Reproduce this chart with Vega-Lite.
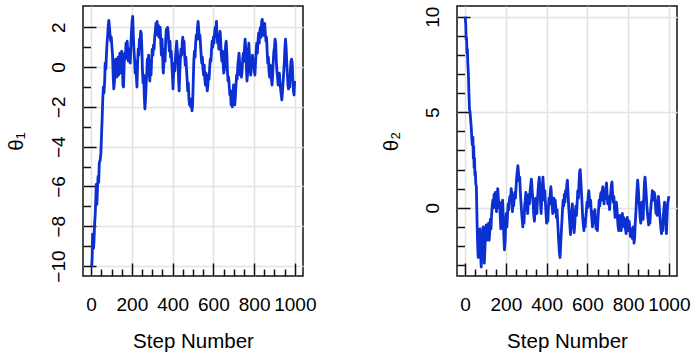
{
  "$schema": "https://vega.github.io/schema/vega-lite/v6.json",
  "padding": {"left": 5, "top": 5, "right": 0, "bottom": 0},
  "bounds": "flush",
  "spacing": 154,
  "config": {
    "font": "Liberation Sans",
    "view": {"stroke": "#111111", "strokeWidth": 1.5},
    "axis": {
      "domain": false,
      "tickColor": "#111111",
      "tickWidth": 1.5,
      "labelColor": "#000000",
      "labelFont": "Liberation Sans",
      "labelFontSize": 19,
      "titleFont": "Liberation Sans",
      "titleFontSize": 20.5,
      "titleFontWeight": "normal",
      "titleColor": "#000000",
      "gridColor": "#e3e3e3",
      "gridWidth": 1.5,
      "labelOverlap": false,
      "labelFlush": false,
      "labelBound": false
    }
  },
  "hconcat": [
    {
      "width": 220,
      "height": 270,
      "data": {"values": [
        {"step":0,"theta":-10},{"step":3,"theta":-10},{"step":5,"theta":-9.6},{"step":7,"theta":-8.4},{"step":9,"theta":-8.5},{"step":12,"theta":-9.1},{"step":14,"theta":-8.7},{"step":17,"theta":-7.9},{"step":20,"theta":-7.4},{"step":23,"theta":-6.6},{"step":25,"theta":-5.9},{"step":28,"theta":-6.9},{"step":31,"theta":-6.1},{"step":34,"theta":-5.5},{"step":37,"theta":-5.8},{"step":40,"theta":-4.8},{"step":44,"theta":-4.7},{"step":48,"theta":-4.3},{"step":51,"theta":-3.4},{"step":54,"theta":-2.6},{"step":57,"theta":-1.6},{"step":60,"theta":-1.0},{"step":63,"theta":-1.3},{"step":66,"theta":-0.8},{"step":69,"theta":0.2},{"step":72,"theta":-0.1},{"step":75,"theta":0.6},{"step":78,"theta":1.2},{"step":81,"theta":1.6},{"step":84,"theta":2.1},{"step":87,"theta":2.35},{"step":90,"theta":2.0},{"step":93,"theta":1.6},{"step":96,"theta":1.3},{"step":99,"theta":1.5},{"step":102,"theta":1.0},{"step":105,"theta":0.6},{"step":108,"theta":-0.4},{"step":111,"theta":-1.1},{"step":114,"theta":-0.8},{"step":117,"theta":-0.2},{"step":120,"theta":0.4},{"step":123,"theta":0.0},{"step":126,"theta":-0.5},{"step":129,"theta":0.3},{"step":132,"theta":0.5},{"step":135,"theta":-0.4},{"step":138,"theta":0.2},{"step":141,"theta":0.7},{"step":144,"theta":-0.3},{"step":147,"theta":0.4},{"step":150,"theta":0.8},{"step":153,"theta":0.2},{"step":156,"theta":-0.9},{"step":159,"theta":-1.0},{"step":162,"theta":0.1},{"step":165,"theta":0.7},{"step":168,"theta":0.4},{"step":171,"theta":1.2},{"step":174,"theta":0.9},{"step":177,"theta":1.3},{"step":180,"theta":0.7},{"step":183,"theta":0.3},{"step":186,"theta":0.9},{"step":189,"theta":0.5},{"step":192,"theta":0.2},{"step":195,"theta":1.1},{"step":198,"theta":1.8},{"step":201,"theta":2.3},{"step":204,"theta":2.55},{"step":207,"theta":1.6},{"step":210,"theta":0.9},{"step":213,"theta":0.4},{"step":216,"theta":-0.3},{"step":219,"theta":0.3},{"step":222,"theta":-0.5},{"step":225,"theta":-1.0},{"step":228,"theta":0.2},{"step":231,"theta":0.9},{"step":234,"theta":0.6},{"step":237,"theta":1.4},{"step":240,"theta":1.1},{"step":243,"theta":1.8},{"step":246,"theta":1.7},{"step":249,"theta":0.9},{"step":252,"theta":-0.2},{"step":255,"theta":-0.8},{"step":258,"theta":-0.4},{"step":261,"theta":-1.5},{"step":264,"theta":-2.1},{"step":267,"theta":-1.6},{"step":270,"theta":-0.9},{"step":273,"theta":-0.3},{"step":276,"theta":0.4},{"step":279,"theta":0.1},{"step":282,"theta":0.6},{"step":285,"theta":-0.3},{"step":288,"theta":-0.7},{"step":291,"theta":0.1},{"step":294,"theta":-0.4},{"step":297,"theta":0.4},{"step":300,"theta":0.9},{"step":303,"theta":0.6},{"step":306,"theta":1.1},{"step":309,"theta":0.9},{"step":312,"theta":1.5},{"step":315,"theta":1.8},{"step":318,"theta":2.2},{"step":321,"theta":1.9},{"step":324,"theta":2.3},{"step":327,"theta":1.6},{"step":330,"theta":2.1},{"step":333,"theta":1.5},{"step":336,"theta":1.9},{"step":339,"theta":2.0},{"step":342,"theta":1.2},{"step":345,"theta":0.6},{"step":348,"theta":1.4},{"step":351,"theta":0.5},{"step":354,"theta":-0.3},{"step":357,"theta":0.2},{"step":360,"theta":0.9},{"step":363,"theta":0.3},{"step":366,"theta":1.4},{"step":369,"theta":1.9},{"step":372,"theta":1.5},{"step":375,"theta":2.0},{"step":378,"theta":1.8},{"step":381,"theta":1.2},{"step":384,"theta":0.8},{"step":387,"theta":1.3},{"step":390,"theta":0.5},{"step":393,"theta":0.8},{"step":396,"theta":0.2},{"step":399,"theta":-0.4},{"step":402,"theta":-1.1},{"step":405,"theta":-0.3},{"step":408,"theta":0.2},{"step":411,"theta":-0.2},{"step":414,"theta":0.5},{"step":417,"theta":0.9},{"step":420,"theta":1.3},{"step":423,"theta":0.8},{"step":426,"theta":0.4},{"step":429,"theta":-0.6},{"step":432,"theta":-1.2},{"step":435,"theta":-0.3},{"step":438,"theta":0.4},{"step":441,"theta":0.9},{"step":444,"theta":0.6},{"step":447,"theta":1.2},{"step":450,"theta":1.5},{"step":453,"theta":1.0},{"step":456,"theta":1.3},{"step":459,"theta":0.6},{"step":462,"theta":0.1},{"step":465,"theta":0.5},{"step":468,"theta":-0.1},{"step":471,"theta":-0.6},{"step":474,"theta":-1.2},{"step":477,"theta":-0.8},{"step":480,"theta":-1.6},{"step":483,"theta":-1.9},{"step":486,"theta":-1.8},{"step":489,"theta":-2.0},{"step":492,"theta":-1.6},{"step":495,"theta":-2.2},{"step":498,"theta":-1.9},{"step":501,"theta":-0.8},{"step":504,"theta":0.3},{"step":507,"theta":0.8},{"step":510,"theta":0.5},{"step":513,"theta":1.2},{"step":516,"theta":1.6},{"step":519,"theta":1.4},{"step":522,"theta":2.0},{"step":525,"theta":2.3},{"step":528,"theta":1.9},{"step":531,"theta":1.4},{"step":534,"theta":1.6},{"step":537,"theta":1.1},{"step":540,"theta":0.6},{"step":543,"theta":0.2},{"step":546,"theta":0.5},{"step":549,"theta":-0.1},{"step":552,"theta":-0.4},{"step":555,"theta":0.1},{"step":558,"theta":-0.6},{"step":561,"theta":-0.9},{"step":564,"theta":-0.3},{"step":567,"theta":-0.8},{"step":570,"theta":-1.2},{"step":573,"theta":-0.9},{"step":576,"theta":-0.4},{"step":579,"theta":-0.6},{"step":582,"theta":0.0},{"step":585,"theta":0.4},{"step":588,"theta":0.3},{"step":591,"theta":0.9},{"step":594,"theta":1.3},{"step":597,"theta":1.0},{"step":600,"theta":1.5},{"step":603,"theta":1.2},{"step":606,"theta":1.7},{"step":609,"theta":2.0},{"step":612,"theta":1.8},{"step":615,"theta":2.3},{"step":618,"theta":1.6},{"step":621,"theta":1.2},{"step":624,"theta":1.4},{"step":627,"theta":0.9},{"step":630,"theta":1.5},{"step":633,"theta":1.8},{"step":636,"theta":1.3},{"step":639,"theta":0.6},{"step":642,"theta":0.3},{"step":645,"theta":0.8},{"step":648,"theta":0.2},{"step":651,"theta":-0.3},{"step":654,"theta":-0.1},{"step":657,"theta":0.4},{"step":660,"theta":1.1},{"step":663,"theta":1.3},{"step":666,"theta":0.7},{"step":669,"theta":-0.2},{"step":672,"theta":-0.7},{"step":675,"theta":-0.5},{"step":678,"theta":-1.0},{"step":681,"theta":-1.4},{"step":684,"theta":-1.2},{"step":687,"theta":-1.9},{"step":690,"theta":-1.5},{"step":693,"theta":-2.0},{"step":696,"theta":-1.3},{"step":699,"theta":-0.9},{"step":702,"theta":-1.4},{"step":705,"theta":-1.9},{"step":708,"theta":-1.5},{"step":711,"theta":-0.9},{"step":714,"theta":-0.4},{"step":717,"theta":-0.6},{"step":720,"theta":0.1},{"step":723,"theta":0.4},{"step":726,"theta":0.7},{"step":729,"theta":0.2},{"step":732,"theta":-0.4},{"step":735,"theta":-0.1},{"step":738,"theta":-0.5},{"step":741,"theta":-0.2},{"step":744,"theta":0.4},{"step":747,"theta":0.7},{"step":750,"theta":0.3},{"step":753,"theta":1.0},{"step":756,"theta":1.4},{"step":759,"theta":0.9},{"step":762,"theta":0.0},{"step":765,"theta":-0.7},{"step":768,"theta":-0.3},{"step":771,"theta":0.6},{"step":774,"theta":1.2},{"step":777,"theta":0.6},{"step":780,"theta":0.0},{"step":783,"theta":-0.4},{"step":786,"theta":-0.1},{"step":789,"theta":0.3},{"step":792,"theta":0.6},{"step":795,"theta":0.1},{"step":798,"theta":0.4},{"step":801,"theta":-0.2},{"step":804,"theta":-0.4},{"step":807,"theta":0.2},{"step":810,"theta":0.8},{"step":813,"theta":1.2},{"step":816,"theta":0.7},{"step":819,"theta":1.3},{"step":822,"theta":1.7},{"step":825,"theta":1.2},{"step":828,"theta":1.8},{"step":831,"theta":2.0},{"step":834,"theta":1.5},{"step":837,"theta":2.3},{"step":840,"theta":2.4},{"step":843,"theta":1.9},{"step":846,"theta":1.6},{"step":849,"theta":1.9},{"step":852,"theta":2.2},{"step":855,"theta":1.7},{"step":858,"theta":1.3},{"step":861,"theta":1.5},{"step":864,"theta":0.8},{"step":867,"theta":0.2},{"step":870,"theta":0.5},{"step":873,"theta":-0.2},{"step":876,"theta":-0.5},{"step":879,"theta":0.1},{"step":882,"theta":-0.3},{"step":885,"theta":-0.6},{"step":888,"theta":-0.9},{"step":891,"theta":-0.4},{"step":894,"theta":0.3},{"step":897,"theta":0.8},{"step":900,"theta":1.0},{"step":903,"theta":1.4},{"step":906,"theta":1.2},{"step":909,"theta":0.3},{"step":912,"theta":-0.2},{"step":915,"theta":-0.5},{"step":918,"theta":-0.9},{"step":921,"theta":-0.6},{"step":924,"theta":-0.3},{"step":927,"theta":-0.8},{"step":930,"theta":-1.1},{"step":933,"theta":-1.4},{"step":936,"theta":-1.65},{"step":939,"theta":-1.3},{"step":942,"theta":-0.8},{"step":945,"theta":-0.3},{"step":948,"theta":0.2},{"step":951,"theta":0.9},{"step":954,"theta":1.4},{"step":957,"theta":1.0},{"step":960,"theta":0.3},{"step":963,"theta":-0.3},{"step":966,"theta":-0.9},{"step":969,"theta":-1.1},{"step":972,"theta":-0.5},{"step":975,"theta":-1.0},{"step":978,"theta":-0.2},{"step":981,"theta":0.3},{"step":984,"theta":0.4},{"step":987,"theta":0.2},{"step":990,"theta":-0.6},{"step":993,"theta":-1.2},{"step":996,"theta":-1.4},{"step":999,"theta":-0.7}
      ]},
      "mark": {"type": "line", "color": "#0b2fd1", "strokeWidth": 2.8, "strokeJoin": "round"},
      "encoding": {
        "x": {
          "field": "step", "type": "quantitative",
          "scale": {"domain": [-40, 1040], "nice": false, "zero": false},
          "axis": {
            "title": "Step Number",
            "values": [0,50,100,150,200,250,300,350,400,450,500,550,600,650,700,750,800,850,900,950,1000],
            "format": "d",
            "labelExpr": "datum.value % 200 === 0 ? datum.label : ''",
            "tickSize": {"condition": {"test": "datum.value % 200 === 0", "value": -13}, "value": -7},
            "gridOpacity": {"condition": {"test": "datum.value % 200 === 0", "value": 1}, "value": 0},
            "labelPadding": 32,
            "titlePadding": 11
          }
        },
        "y": {
          "field": "theta", "type": "quantitative",
          "scale": {"domain": [-10.5, 3.07], "nice": false, "zero": false},
          "axis": {
            "title": "θ₁",
            "values": [-10,-9.5,-9,-8.5,-8,-7.5,-7,-6.5,-6,-5.5,-5,-4.5,-4,-3.5,-3,-2.5,-2,-1.5,-1,-0.5,0,0.5,1,1.5,2,2.5],
            "format": "d",
            "labelExpr": "datum.value % 2 === 0 ? datum.label : ''",
            "tickSize": {"condition": {"test": "datum.value % 2 === 0", "value": -13}, "value": -7.5},
            "gridOpacity": {"condition": {"test": "datum.value % 2 === 0", "value": 1}, "value": 0},
            "labelAngle": -90,
            "labelAlign": "center",
            "labelBaseline": "alphabetic",
            "labelPadding": 32,
            "titlePadding": 17
          }
        }
      }
    },
    {
      "width": 220,
      "height": 270,
      "data": {"values": [
        {"step":0,"theta":10.0},{"step":3,"theta":9.6},{"step":5,"theta":8.8},{"step":7,"theta":8.9},{"step":9,"theta":8.1},{"step":11,"theta":8.3},{"step":13,"theta":7.6},{"step":16,"theta":7.0},{"step":18,"theta":6.2},{"step":21,"theta":5.2},{"step":24,"theta":5.0},{"step":27,"theta":4.6},{"step":30,"theta":4.2},{"step":33,"theta":3.6},{"step":35,"theta":3.3},{"step":38,"theta":3.7},{"step":40,"theta":2.6},{"step":42,"theta":3.2},{"step":44,"theta":2.1},{"step":46,"theta":2.6},{"step":48,"theta":1.7},{"step":50,"theta":1.9},{"step":52,"theta":1.3},{"step":55,"theta":1.1},{"step":58,"theta":-0.5},{"step":61,"theta":-1.8},{"step":64,"theta":-2.6},{"step":67,"theta":-1.4},{"step":70,"theta":-2.2},{"step":73,"theta":-1.1},{"step":76,"theta":-2.5},{"step":79,"theta":-3.1},{"step":82,"theta":-1.6},{"step":85,"theta":-2.3},{"step":88,"theta":-1.0},{"step":91,"theta":-1.6},{"step":94,"theta":-2.9},{"step":97,"theta":-2.2},{"step":100,"theta":-1.3},{"step":103,"theta":-0.9},{"step":106,"theta":-1.7},{"step":109,"theta":-1.1},{"step":112,"theta":-1.5},{"step":115,"theta":-0.8},{"step":118,"theta":-1.7},{"step":121,"theta":-1.2},{"step":124,"theta":-0.6},{"step":127,"theta":-1.1},{"step":130,"theta":-0.3},{"step":133,"theta":0.1},{"step":136,"theta":0.4},{"step":139,"theta":0.0},{"step":142,"theta":0.7},{"step":145,"theta":0.5},{"step":148,"theta":0.8},{"step":151,"theta":0.2},{"step":154,"theta":-0.2},{"step":157,"theta":0.6},{"step":160,"theta":1.0},{"step":163,"theta":0.5},{"step":166,"theta":0.0},{"step":169,"theta":0.3},{"step":172,"theta":-0.4},{"step":175,"theta":-1.1},{"step":178,"theta":-0.7},{"step":181,"theta":0.1},{"step":184,"theta":0.4},{"step":187,"theta":-0.5},{"step":190,"theta":-1.5},{"step":193,"theta":-2.2},{"step":196,"theta":-1.8},{"step":199,"theta":-0.9},{"step":202,"theta":-0.3},{"step":205,"theta":-1.0},{"step":208,"theta":-0.4},{"step":211,"theta":0.2},{"step":214,"theta":-0.1},{"step":217,"theta":0.4},{"step":220,"theta":0.6},{"step":223,"theta":0.3},{"step":226,"theta":1.0},{"step":229,"theta":0.7},{"step":232,"theta":-0.2},{"step":235,"theta":0.3},{"step":238,"theta":0.1},{"step":241,"theta":0.5},{"step":244,"theta":0.8},{"step":247,"theta":0.5},{"step":250,"theta":1.1},{"step":253,"theta":1.6},{"step":256,"theta":1.9},{"step":259,"theta":2.2},{"step":262,"theta":1.8},{"step":265,"theta":1.4},{"step":268,"theta":1.6},{"step":271,"theta":0.8},{"step":274,"theta":0.3},{"step":277,"theta":-0.2},{"step":280,"theta":-0.6},{"step":283,"theta":-1.0},{"step":286,"theta":-0.5},{"step":289,"theta":-0.8},{"step":292,"theta":0.1},{"step":295,"theta":0.4},{"step":298,"theta":0.8},{"step":301,"theta":0.5},{"step":304,"theta":0.0},{"step":307,"theta":-0.3},{"step":310,"theta":0.4},{"step":313,"theta":0.7},{"step":316,"theta":0.2},{"step":319,"theta":0.9},{"step":322,"theta":1.2},{"step":325,"theta":1.5},{"step":328,"theta":1.1},{"step":331,"theta":0.6},{"step":334,"theta":0.2},{"step":337,"theta":-0.4},{"step":340,"theta":-0.7},{"step":343,"theta":-0.2},{"step":346,"theta":0.5},{"step":349,"theta":0.3},{"step":352,"theta":-0.3},{"step":355,"theta":0.4},{"step":358,"theta":0.9},{"step":361,"theta":1.3},{"step":364,"theta":1.6},{"step":367,"theta":1.0},{"step":370,"theta":0.2},{"step":373,"theta":-0.3},{"step":376,"theta":0.5},{"step":379,"theta":1.1},{"step":382,"theta":1.6},{"step":385,"theta":1.0},{"step":388,"theta":0.4},{"step":391,"theta":0.9},{"step":394,"theta":0.3},{"step":397,"theta":-0.3},{"step":400,"theta":-0.8},{"step":403,"theta":-0.5},{"step":406,"theta":-0.7},{"step":409,"theta":0.1},{"step":412,"theta":0.5},{"step":415,"theta":0.2},{"step":418,"theta":0.8},{"step":421,"theta":1.1},{"step":424,"theta":0.6},{"step":427,"theta":0.1},{"step":430,"theta":-0.3},{"step":433,"theta":0.3},{"step":436,"theta":0.5},{"step":439,"theta":-0.2},{"step":442,"theta":0.4},{"step":445,"theta":0.0},{"step":448,"theta":-0.5},{"step":451,"theta":-0.1},{"step":454,"theta":-0.7},{"step":457,"theta":-1.3},{"step":460,"theta":-1.9},{"step":463,"theta":-2.4},{"step":466,"theta":-2.6},{"step":469,"theta":-1.9},{"step":472,"theta":-1.3},{"step":475,"theta":-0.7},{"step":478,"theta":-0.1},{"step":481,"theta":0.4},{"step":484,"theta":0.1},{"step":487,"theta":0.7},{"step":490,"theta":0.3},{"step":493,"theta":0.9},{"step":496,"theta":0.6},{"step":499,"theta":1.2},{"step":502,"theta":1.45},{"step":505,"theta":0.8},{"step":508,"theta":0.1},{"step":511,"theta":-0.4},{"step":514,"theta":-0.9},{"step":517,"theta":-1.4},{"step":520,"theta":-1.0},{"step":523,"theta":-0.3},{"step":526,"theta":0.2},{"step":529,"theta":-0.3},{"step":532,"theta":-0.8},{"step":535,"theta":-1.3},{"step":538,"theta":-0.9},{"step":541,"theta":-0.2},{"step":544,"theta":0.1},{"step":547,"theta":-0.4},{"step":550,"theta":0.3},{"step":553,"theta":0.9},{"step":556,"theta":0.5},{"step":559,"theta":1.3},{"step":562,"theta":1.9},{"step":565,"theta":2.0},{"step":568,"theta":1.4},{"step":571,"theta":0.8},{"step":574,"theta":0.2},{"step":577,"theta":-0.5},{"step":580,"theta":-0.9},{"step":583,"theta":-1.2},{"step":586,"theta":-0.6},{"step":589,"theta":-1.0},{"step":592,"theta":-0.5},{"step":595,"theta":-0.2},{"step":598,"theta":0.3},{"step":601,"theta":0.0},{"step":604,"theta":0.6},{"step":607,"theta":0.9},{"step":610,"theta":0.5},{"step":613,"theta":0.1},{"step":616,"theta":0.4},{"step":619,"theta":-0.2},{"step":622,"theta":-0.6},{"step":625,"theta":-1.0},{"step":628,"theta":-0.7},{"step":631,"theta":-0.2},{"step":634,"theta":-0.5},{"step":637,"theta":-0.1},{"step":640,"theta":-0.7},{"step":643,"theta":-1.1},{"step":646,"theta":-0.8},{"step":649,"theta":-1.2},{"step":652,"theta":-0.6},{"step":655,"theta":-0.1},{"step":658,"theta":0.4},{"step":661,"theta":0.1},{"step":664,"theta":0.6},{"step":667,"theta":0.8},{"step":670,"theta":0.4},{"step":673,"theta":0.9},{"step":676,"theta":1.1},{"step":679,"theta":0.6},{"step":682,"theta":0.2},{"step":685,"theta":0.8},{"step":688,"theta":0.5},{"step":691,"theta":1.0},{"step":694,"theta":1.3},{"step":697,"theta":0.7},{"step":700,"theta":0.2},{"step":703,"theta":0.6},{"step":706,"theta":0.3},{"step":709,"theta":-0.1},{"step":712,"theta":0.4},{"step":715,"theta":0.8},{"step":718,"theta":1.2},{"step":721,"theta":1.35},{"step":724,"theta":0.7},{"step":727,"theta":0.3},{"step":730,"theta":0.6},{"step":733,"theta":0.0},{"step":736,"theta":-0.5},{"step":739,"theta":-0.2},{"step":742,"theta":0.3},{"step":745,"theta":0.0},{"step":748,"theta":-0.6},{"step":751,"theta":-1.0},{"step":754,"theta":-1.2},{"step":757,"theta":-0.7},{"step":760,"theta":-0.4},{"step":763,"theta":-0.9},{"step":766,"theta":-1.2},{"step":769,"theta":-0.6},{"step":772,"theta":-0.3},{"step":775,"theta":-0.8},{"step":778,"theta":-0.5},{"step":781,"theta":-1.0},{"step":784,"theta":-0.6},{"step":787,"theta":-1.1},{"step":790,"theta":-1.35},{"step":793,"theta":-0.9},{"step":796,"theta":-0.5},{"step":799,"theta":-0.9},{"step":802,"theta":-1.2},{"step":805,"theta":-0.7},{"step":808,"theta":-1.0},{"step":811,"theta":-1.5},{"step":814,"theta":-1.3},{"step":817,"theta":-1.1},{"step":820,"theta":-1.6},{"step":823,"theta":-1.4},{"step":826,"theta":-1.0},{"step":829,"theta":-1.85},{"step":832,"theta":-1.6},{"step":835,"theta":-0.8},{"step":838,"theta":-0.3},{"step":841,"theta":0.4},{"step":844,"theta":1.0},{"step":847,"theta":1.45},{"step":850,"theta":1.0},{"step":853,"theta":0.4},{"step":856,"theta":0.0},{"step":859,"theta":-0.5},{"step":862,"theta":-0.8},{"step":865,"theta":-0.2},{"step":868,"theta":0.3},{"step":871,"theta":-0.3},{"step":874,"theta":-0.6},{"step":877,"theta":0.5},{"step":880,"theta":1.3},{"step":883,"theta":1.6},{"step":886,"theta":1.2},{"step":889,"theta":0.7},{"step":892,"theta":0.1},{"step":895,"theta":-0.3},{"step":898,"theta":-0.6},{"step":901,"theta":-0.9},{"step":904,"theta":-0.5},{"step":907,"theta":-0.8},{"step":910,"theta":-0.2},{"step":913,"theta":0.2},{"step":916,"theta":0.5},{"step":919,"theta":0.9},{"step":922,"theta":0.6},{"step":925,"theta":0.4},{"step":928,"theta":0.8},{"step":931,"theta":0.7},{"step":934,"theta":0.2},{"step":937,"theta":-0.3},{"step":940,"theta":0.1},{"step":943,"theta":-0.4},{"step":946,"theta":0.3},{"step":949,"theta":0.6},{"step":952,"theta":0.2},{"step":955,"theta":-0.3},{"step":958,"theta":-0.7},{"step":961,"theta":-1.1},{"step":964,"theta":-1.35},{"step":967,"theta":-0.8},{"step":970,"theta":-1.2},{"step":973,"theta":-0.4},{"step":976,"theta":0.0},{"step":979,"theta":0.3},{"step":982,"theta":-0.2},{"step":985,"theta":-0.8},{"step":988,"theta":-1.35},{"step":991,"theta":-0.5},{"step":994,"theta":0.2},{"step":997,"theta":0.4},{"step":1000,"theta":0.6}
      ]},
      "mark": {"type": "line", "color": "#0b2fd1", "strokeWidth": 2.8, "strokeJoin": "round"},
      "encoding": {
        "x": {
          "field": "step", "type": "quantitative",
          "scale": {"domain": [-40, 1040], "nice": false, "zero": false},
          "axis": {
            "title": "Step Number",
            "values": [0,50,100,150,200,250,300,350,400,450,500,550,600,650,700,750,800,850,900,950,1000],
            "format": "d",
            "labelExpr": "datum.value % 200 === 0 ? datum.label : ''",
            "tickSize": {"condition": {"test": "datum.value % 200 === 0", "value": -13}, "value": -7},
            "gridOpacity": {"condition": {"test": "datum.value % 200 === 0", "value": 1}, "value": 0},
            "labelPadding": 32,
            "titlePadding": 11
          }
        },
        "y": {
          "field": "theta", "type": "quantitative",
          "scale": {"domain": [-3.57, 10.56], "nice": false, "zero": false},
          "axis": {
            "title": "θ₂",
            "values": [-3,-2,-1,0,1,2,3,4,5,6,7,8,9,10],
            "format": "d",
            "labelExpr": "datum.value % 5 === 0 ? datum.label : ''",
            "tickSize": {"condition": {"test": "datum.value % 5 === 0", "value": -13}, "value": -7.5},
            "gridOpacity": {"condition": {"test": "datum.value % 5 === 0", "value": 1}, "value": 0},
            "labelAngle": -90,
            "labelAlign": "center",
            "labelBaseline": "alphabetic",
            "labelPadding": 32,
            "titlePadding": 16
          }
        }
      }
    }
  ]
}
